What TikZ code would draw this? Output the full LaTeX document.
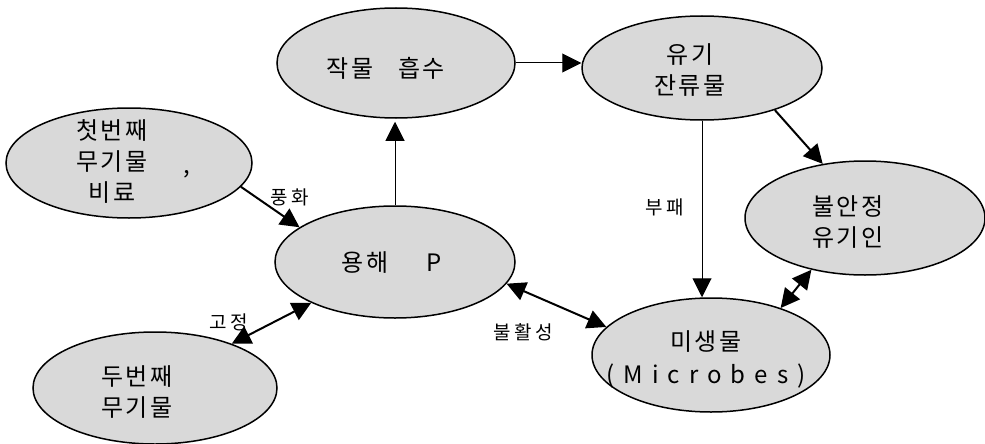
\documentclass[tikz,border=0pt]{standalone}
\usepackage{fontspec}
\newfontfamily\kr[LetterSpace=12]{Noto Sans CJK KR}
\newfontfamily\krlab[LetterSpace=18]{Noto Sans CJK KR}
\newfontfamily\krwide[LetterSpace=38]{Noto Sans CJK KR}
\usetikzlibrary{arrows.meta,shapes.geometric}
\begin{document}
\begin{tikzpicture}[x=1pt,y=-1pt,
  blob/.style={ellipse,draw=black,line width=1.5pt,fill=black!15,inner sep=0pt},
  txt/.style={align=center,font=\kr\fontsize{24}{31}\selectfont,inner sep=0pt},
  lab/.style={font=\krlab\fontsize{19}{21}\selectfont,inner sep=0pt},
  thin/.style={line width=1pt,-{Triangle[length=19pt,width=19pt]}},
  thick/.style={line width=2pt,-{Triangle[length=19pt,width=19pt]}},
  both/.style={line width=2pt,{Triangle[length=19pt,width=19pt]}-{Triangle[length=19pt,width=19pt]}}]
\useasboundingbox (0,0) rectangle (985,444);
% ellipses
\node[blob,minimum width=246pt,minimum height=110pt] (fert) at (129,163) {};
\node[blob,minimum width=238pt,minimum height=110pt] (crop) at (396,63) {};
\node[blob,minimum width=240pt,minimum height=104pt] (org) at (702,68) {};
\node[blob,minimum width=240pt,minimum height=112pt] (sol) at (395,262) {};
\node[blob,minimum width=240pt,minimum height=114pt] (lab) at (865,218) {};
\node[blob,minimum width=238pt,minimum height=114pt] (mic) at (711,355) {};
\node[blob,minimum width=244pt,minimum height=112pt] (sec) at (155,388) {};
% texts
\node[txt] (tfert) at (112,161) {첫번째\\무기물\\비료};
\node[txt] (tcomma) at (187,174) {,};
\node[txt] (tcrop) at (386,68) {작물\hspace{24pt}흡수};
\node[txt] (torg) at (690,70) {유기\\잔류물};
\node[txt] (tsol) at (392,263) {용해\hspace{38pt}P};
\node[txt] (tlab) at (848,222) {불안정\\유기인};
\node[txt,font=\kr\fontsize{24}{33}\selectfont] (tmic) at (706,359) {미생물\\{\krwide (Microbes)}};
\node[txt] (tsec) at (137,392) {두번째\\무기물};
% connectors
\draw[thin] (crop.east) -- (crop.east -| org.west);
\draw[thin,shorten >=3pt] (sol.north) -- (sol.north |- crop.south);
\draw[thick] (org.-30) -- (lab.128);
\draw[thin] (org.south) -- (org.south |- mic.north);
\draw[thick] (fert.-12) -- (sol.160);
\draw[both] (sec.30) -- (sol.206);
\draw[both] (sol.-11) -- (mic.165);
\draw[both] (lab.224) -- (mic.34);
% edge labels
\node[lab] (lweather) at (290,197) {풍화};
\node[lab] (lfix) at (229,322) {고정};
\node[lab] (ldecay) at (665,207) {부패};
\node[lab] (linert) at (523,332) {불활성};
\end{tikzpicture}
\end{document}
